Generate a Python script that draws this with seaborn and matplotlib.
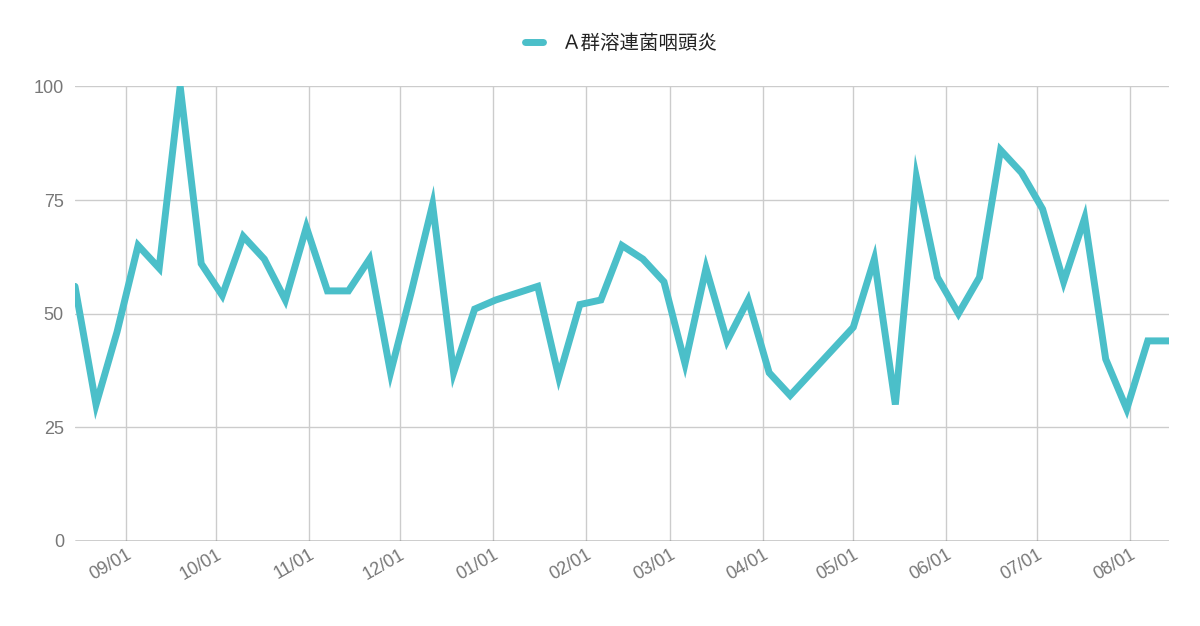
import pandas as pd
import matplotlib.pyplot as plt
import matplotlib.dates as mdates
import seaborn as sns

# weekly reports, Aug 2022 - Aug 2023
start_date = "2022-08-15"
series_name = "Ａ群溶連菌咽頭炎"
values = [56, 30, 46, 65, 60, 100, 61, 54, 67, 62, 53, 69, 55, 55, 62, 37,
          55, 74, 37, 51, 53, 54.5, 56, 36, 52, 53, 65, 62, 57, 39, 60, 44,
          53, 37, 32, 37, 42, 47, 62, 30, 80, 58, 50, 58, 86, 81, 73, 57,
          71, 40, 29, 44, 44]
y_ticks = [0, 25, 50, 75, 100]

dates = pd.date_range(start_date, periods=len(values), freq="7D")
df = pd.DataFrame({"date": dates, "value": values})

sns.set_theme(style="white")
plt.rcParams['font.family'] = ['Liberation Sans', 'Noto Sans CJK JP', 'DejaVu Sans']

fig, ax = plt.subplots(figsize=(12, 6.26), dpi=100)
fig.subplots_adjust(left=0.0625, right=0.974, top=0.862, bottom=0.136)

sns.lineplot(data=df, x="date", y="value", ax=ax, color="#4bbfc9",
             linewidth=5, label=series_name)
for ln in ax.get_lines():
    ln.set_solid_joinstyle("miter")

ax.set_xlim(dates[0], dates[-1])
ax.set_ylim(0, 100)
ax.set_yticks(y_ticks)
ax.xaxis.set_major_locator(mdates.MonthLocator())
ax.xaxis.set_major_formatter(mdates.DateFormatter("%m/%d"))
ax.grid(True, color="#cccccc", linewidth=1)
ax.set_xlabel("")
ax.set_ylabel("")
for s in ax.spines.values():
    s.set_visible(False)
ax.axhline(0, color="#333333", linewidth=1)
ax.tick_params(axis="both", colors="#777777", labelsize=13, length=0)
plt.setp(ax.get_xticklabels(), rotation=30, ha="right", rotation_mode="anchor")
ax.tick_params(axis="y", pad=8)

leg = ax.legend(loc="lower center", bbox_to_anchor=(0.5, 1.035), frameon=False,
                fontsize=14, handlelength=0.9, handletextpad=1.0)
for t in leg.get_texts():
    t.set_color("#222222")

fig.savefig("out.png", dpi=100)
